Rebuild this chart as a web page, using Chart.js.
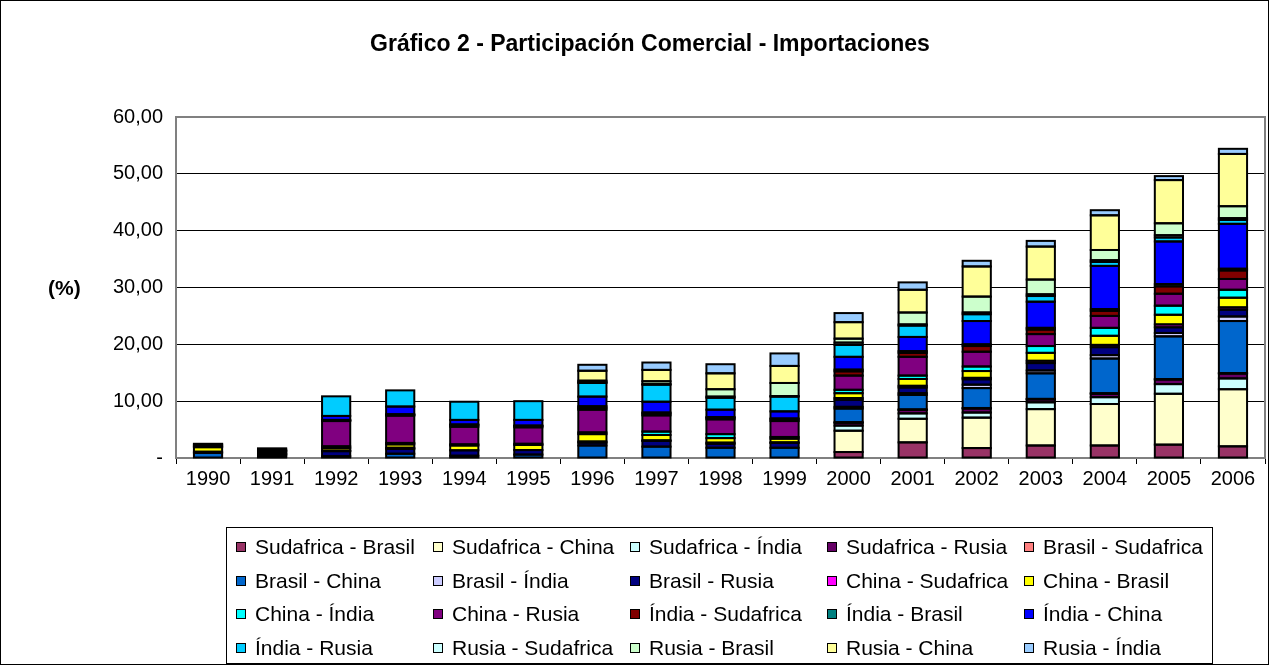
<!DOCTYPE html>
<html>
<head>
<meta charset="utf-8">
<script src="https://cdn.jsdelivr.net/npm/chart.js@4.4.0/dist/chart.umd.min.js"></script>
<style>
  html, body { margin: 0; padding: 0; background: #fff; }
  #wrap { position: relative; width: 1271px; height: 665px; overflow: hidden; font-family: Arial, "Liberation Sans", sans-serif; }
  #frame { position: absolute; left: 0; top: 0; width: 1269px; height: 665px; border: 1px solid #000; box-sizing: border-box; pointer-events: none; }
  #chart { position: absolute; left: 0; top: 0; }
  #title { position: absolute; left: 0; width: 1300px; top: 30px; text-align: center; font-weight: bold; font-size: 23px; }
  #ylabel { position: absolute; left: 48px; top: 276px; font-weight: bold; font-size: 21px; }
  #legend { position: absolute; left: 226px; top: 527px; width: 987px; height: 137px; border: 1px solid #000; box-sizing: border-box; font-size: 21px; }
  .item { position: absolute; white-space: nowrap; line-height: 22px; height: 22px; }
  .box { position: absolute; left: 0; top: 6px; width: 10px; height: 10px; border: 1px solid #000; box-sizing: border-box; }
  .txt { position: absolute; left: 19px; top: 0; }
</style>
</head>
<body>
<div id="wrap">
  <canvas id="chart" width="1271" height="665"></canvas>
  <div id="title">Gráfico 2 - Participación Comercial - Importaciones</div>
  <div id="ylabel">(%)</div>
  <div id="legend"></div>
  <div id="frame"></div>
</div>
<script>
var years = ['1990', '1991', '1992', '1993', '1994', '1995', '1996', '1997', '1998',
             '1999', '2000', '2001', '2002', '2003', '2004', '2005', '2006'];

// % de participación
var sudafricaBrasil = [0, 0, 0, 0, 0, 0, 0, 0, 0, 0, 1.05, 2.75, 1.75, 2.2, 2.2, 2.35, 2.05];
var sudafricaChina  = [0, 0, 0, 0, 0, 0, 0, 0, 0, 0, 3.75, 4.15, 5.35, 6.4, 7.3, 8.95, 10.05];
var sudafricaIndia  = [0, 0, 0, 0, 0, 0, 0, 0, 0, 0, 0.9, 0.95, 0.9, 1.2, 1.2, 1.7, 1.9];
var sudafricaRusia  = [0, 0, 0, 0, 0, 0, 0, 0, 0, 0, 0.5, 0.6, 0.7, 0.5, 0.6, 0.8, 0.85];
var brasilSudafrica = [0, 0, 0, 0, 0, 0, 0, 0, 0, 0, 0.1, 0.1, 0.1, 0.1, 0.1, 0.1, 0.1];
var brasilChina     = [0.9, 0.2, 0.3, 0.75, 0.4, 0.6, 2.2, 2.0, 1.8, 1.8, 2.4, 2.55, 3.5, 4.5, 6.1, 7.5, 9.15];
var brasilIndia     = [0, 0, 0, 0, 0, 0, 0, 0, 0, 0, 0.3, 0.3, 0.6, 0.5, 0.6, 0.6, 0.8];
var brasilRusia     = [0.2, 0.3, 0.9, 0.85, 0.95, 0.8, 0.5, 1.0, 0.7, 0.85, 1.25, 1.0, 0.95, 1.3, 1.4, 1.0, 1.2];
var chinaSudafrica  = [0, 0.1, 0.1, 0.2, 0, 0, 0.2, 0.1, 0.2, 0.1, 0.3, 0.3, 0.25, 0.4, 0.4, 0.5, 0.4];
var chinaBrasil     = [0.8, 0.15, 0.45, 0.6, 0.85, 0.9, 1.3, 0.95, 0.8, 0.65, 0.85, 1.2, 1.2, 1.4, 1.6, 1.7, 1.7];
var chinaIndia      = [0.1, 0.1, 0.3, 0.25, 0.2, 0.2, 0.3, 0.6, 0.7, 0.3, 0.6, 0.6, 0.8, 1.2, 1.4, 1.6, 1.4];
var chinaRusia      = [0.2, 0.3, 4.45, 4.8, 3.1, 2.9, 4.0, 2.85, 2.6, 2.8, 2.5, 3.3, 2.6, 2.1, 2.1, 2.1, 1.9];
var indiaSudafrica  = [0, 0.1, 0.1, 0.15, 0.3, 0.25, 0.3, 0.3, 0.25, 0.3, 0.75, 0.7, 1.0, 0.8, 0.9, 1.3, 1.5];
var indiaBrasil     = [0, 0.05, 0.1, 0.1, 0.1, 0.05, 0.3, 0.2, 0.15, 0.15, 0.3, 0.3, 0.3, 0.3, 0.3, 0.4, 0.3];
var indiaChina      = [0.2, 0.2, 0.7, 1.35, 0.8, 1.0, 1.7, 1.9, 1.3, 1.25, 2.25, 2.5, 4.1, 4.6, 7.6, 7.5, 7.9];
var indiaRusia      = [0.1, 0.2, 3.45, 2.85, 3.2, 3.3, 2.4, 3.0, 2.1, 2.6, 2.1, 2.0, 1.2, 1.0, 0.7, 0.7, 0.7];
var rusiaSudafrica  = [0, 0, 0, 0, 0, 0, 0.15, 0.1, 0.2, 0.1, 0.4, 0.2, 0.3, 0.3, 0.3, 0.4, 0.3];
var rusiaBrasil     = [0, 0, 0, 0, 0, 0, 0.25, 0.5, 1.3, 2.3, 0.7, 2.1, 2.8, 2.6, 1.8, 2.1, 2.1];
var rusiaChina      = [0, 0, 0, 0, 0, 0, 1.75, 2.0, 2.8, 3.0, 2.9, 4.0, 5.3, 5.8, 6.1, 7.6, 9.2];
var rusiaIndia      = [0, 0, 0, 0, 0, 0, 1.05, 1.3, 1.6, 2.2, 1.6, 1.3, 1.0, 1.0, 0.9, 0.7, 0.9];

var seriesNames = ['Sudafrica - Brasil', 'Sudafrica - China', 'Sudafrica - Índia', 'Sudafrica - Rusia',
  'Brasil - Sudafrica', 'Brasil - China', 'Brasil - Índia', 'Brasil - Rusia',
  'China - Sudafrica', 'China - Brasil', 'China - Índia', 'China - Rusia',
  'Índia - Sudafrica', 'Índia - Brasil', 'Índia - China', 'Índia - Rusia',
  'Rusia - Sudafrica', 'Rusia - Brasil', 'Rusia - China', 'Rusia - Índia'];
var seriesValues = [sudafricaBrasil, sudafricaChina, sudafricaIndia, sudafricaRusia,
  brasilSudafrica, brasilChina, brasilIndia, brasilRusia,
  chinaSudafrica, chinaBrasil, chinaIndia, chinaRusia,
  indiaSudafrica, indiaBrasil, indiaChina, indiaRusia,
  rusiaSudafrica, rusiaBrasil, rusiaChina, rusiaIndia];
var seriesColors = ['#993366', '#FFFFCC', '#CCFFFF', '#660066',
  '#FF8080', '#0066CC', '#CCCCFF', '#000080',
  '#FF00FF', '#FFFF00', '#00FFFF', '#800080',
  '#800000', '#008080', '#0000FF', '#00CCFF',
  '#CCFFFF', '#CCFFCC', '#FFFF99', '#99CCFF'];

var datasets = seriesNames.map(function(name, i) {
  return {
    label: name,
    data: seriesValues[i],
    backgroundColor: seriesColors[i],
    borderWidth: 0,
    barPercentage: 1,
    categoryPercentage: 0.44
  };
});

// borde gris del área de trazado, como en Excel
var plotBorder = {
  id: 'plotBorder',
  beforeDatasetsDraw: function(chart) {
    var a = chart.chartArea, c = chart.ctx;
    c.save();
    c.strokeStyle = '#808080';
    c.lineWidth = 2;
    c.strokeRect(a.left, a.top, a.right - a.left, a.bottom - a.top);
    c.restore();
  }
};

// contorno negro centrado en cada segmento (estilo Excel)
var excelOutline = {
  id: 'excelOutline',
  afterDatasetsDraw: function(chart) {
    var c = chart.ctx;
    c.save();
    c.strokeStyle = '#000';
    c.lineWidth = 2;
    chart.data.datasets.forEach(function(ds, di) {
      var meta = chart.getDatasetMeta(di);
      meta.data.forEach(function(bar, j) {
        if (!ds.data[j]) return;
        var p = bar.getProps(['x', 'y', 'base', 'width'], true);
        var top = Math.min(p.y, p.base), h = Math.abs(p.base - p.y);
        c.strokeRect(p.x - p.width / 2, top, p.width, h);
      });
    });
    c.restore();
  }
};

var ctx = document.getElementById('chart').getContext('2d');
new Chart(ctx, {
  type: 'bar',
  data: { labels: years, datasets: datasets },
  plugins: [plotBorder, excelOutline],
  options: {
    responsive: false,
    animation: false,
    layout: { padding: { left: 0, right: 6, top: 117, bottom: 0 } },
    plugins: {
      legend: { display: false },
      title: { display: false },
      tooltip: { enabled: false }
    },
    scales: {
      x: {
        stacked: true,
        offset: true,
        afterFit: function(s) { s.height = 207; },
        grid: { display: true, offset: true, drawOnChartArea: false, drawTicks: true, tickLength: 6, color: '#000' },
        border: { display: true, color: '#000' },
        ticks: { color: '#000', font: { family: 'Arial, "Liberation Sans", sans-serif', size: 20 }, maxRotation: 0, autoSkip: false, padding: 3 }
      },
      y: {
        stacked: true,
        min: 0,
        max: 60,
        afterFit: function(s) { s.width = 176; },
        grid: { color: '#000', drawTicks: false },
        border: { display: true, color: '#808080', width: 2 },
        ticks: {
          stepSize: 10,
          color: '#000',
          padding: 13,
          font: { family: 'Arial, "Liberation Sans", sans-serif', size: 20 },
          callback: function(v) { return v === 0 ? '-' : v.toFixed(2).replace('.', ','); }
        }
      }
    }
  }
});

// leyenda en 4 filas x 5 columnas
var legend = document.getElementById('legend');
seriesNames.forEach(function(name, i) {
  var col = i % 5, row = Math.floor(i / 5);
  var item = document.createElement('div');
  item.className = 'item';
  item.style.left = (9 + col * 197) + 'px';
  item.style.top = (8 + row * 33.5) + 'px';
  var box = document.createElement('span');
  box.className = 'box';
  box.style.background = seriesColors[i];
  var txt = document.createElement('span');
  txt.className = 'txt';
  txt.textContent = name;
  item.appendChild(box);
  item.appendChild(txt);
  legend.appendChild(item);
});
</script>
</body>
</html>
